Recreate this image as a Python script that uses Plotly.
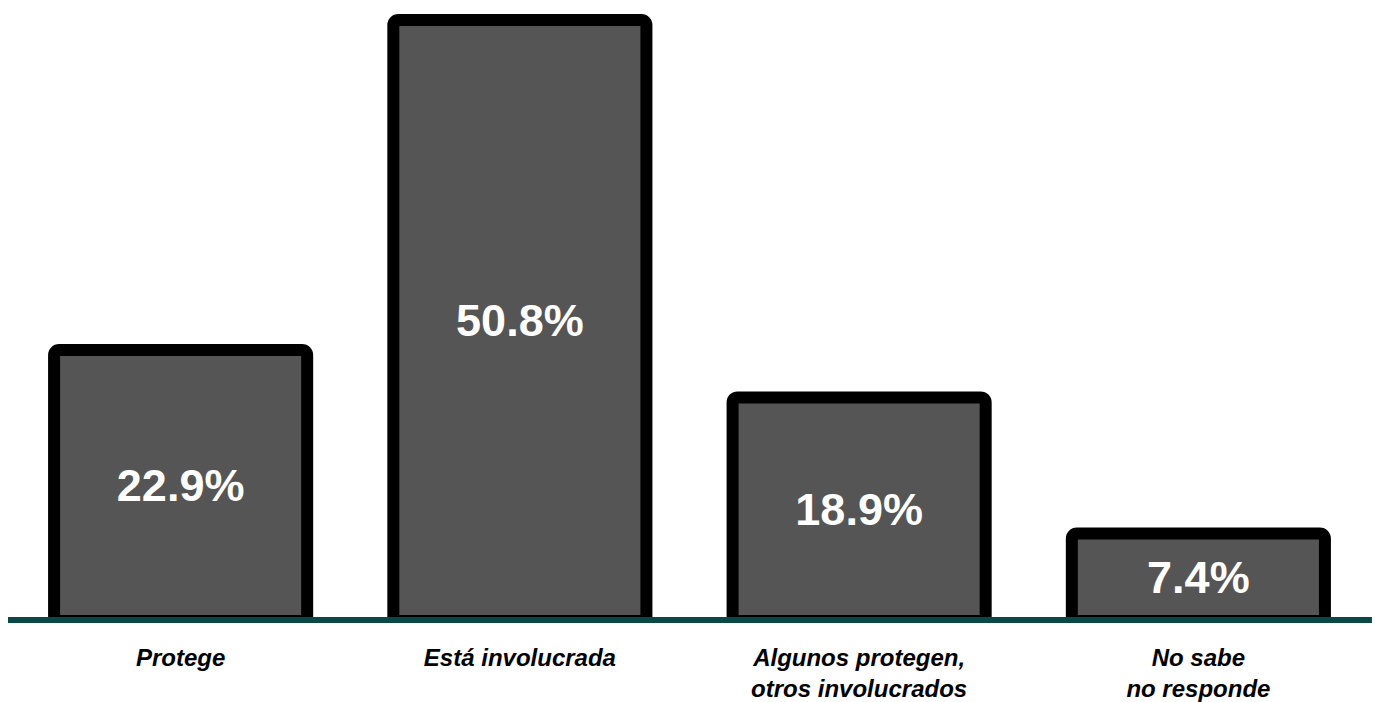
import plotly.graph_objects as go

categories = ["Protege", "Está involucrada", "Algunos protegen,<br>otros involucrados", "No sabe<br>no responde"]
values = [22.9, 50.8, 18.9, 7.4]
labels = ["22.9%", "50.8%", "18.9%", "7.4%"]

fig = go.Figure(go.Bar(
    x=categories, y=values, text=labels,
    textposition="inside", insidetextanchor="middle",
    textfont=dict(family="Liberation Sans, Arial", size=45, color="white", weight="bold"),
    marker=dict(color="#555555", line=dict(color="black", width=12), cornerradius=5),
    hoverinfo="skip", cliponaxis=False,
))

fig.update_layout(
    width=1376, height=702,
    margin=dict(l=11, r=8, t=7, b=81),
    paper_bgcolor="white", plot_bgcolor="white",
    bargap=0.254, showlegend=False,
    xaxis=dict(range=[-0.5, 3.5], showgrid=False, zeroline=False, showline=False,
               automargin=False,
               ticks="outside", ticklen=15, tickcolor="rgba(0,0,0,0)",
               tickfont=dict(family="Liberation Sans, Arial", size=24, color="black",
                             weight="bold", style="italic")),
    yaxis=dict(range=[0, 51.9], visible=False, automargin=False),
    shapes=[dict(type="line", xref="paper", yref="paper", x0=-0.0022, x1=1.0029,
                 y0=0.0016, y1=0.0016,
                 line=dict(color="#0b4745", width=6), layer="above")],
)

fig.write_html("out.html", config={"displayModeBar": False},
               post_script="document.body.style.margin='0';document.body.style.overflow='hidden';")
